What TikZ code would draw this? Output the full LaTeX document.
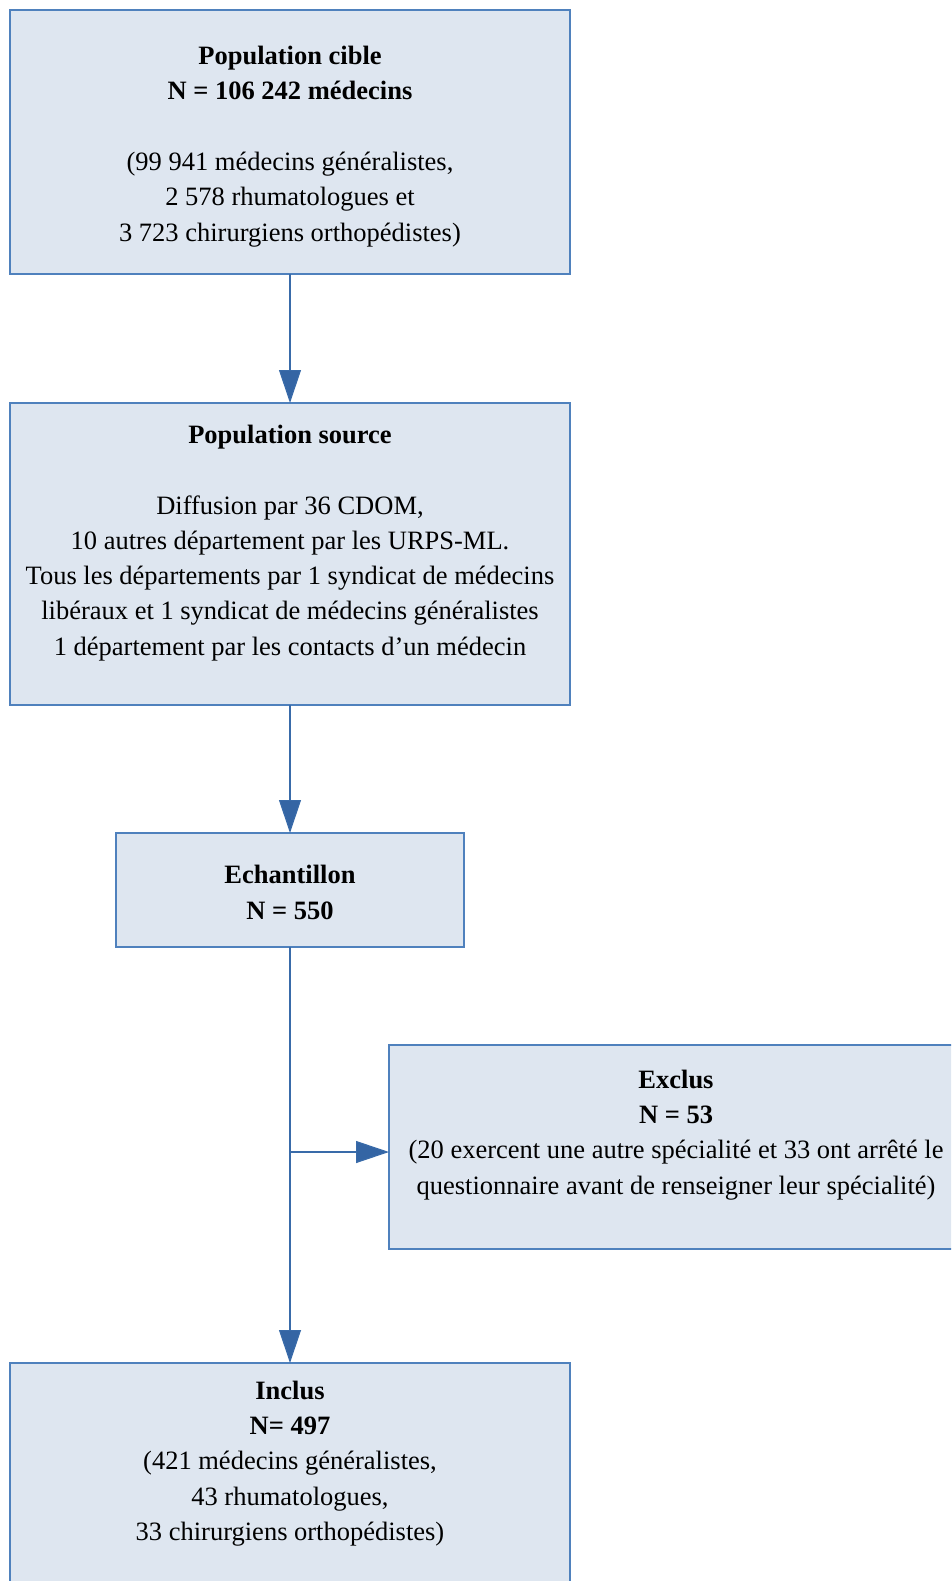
\documentclass[tikz,border=0pt]{standalone}
\usepackage{fontspec}
\setmainfont{Liberation Serif}
\usetikzlibrary{arrows.meta}
\definecolor{boxfill}{RGB}{222,230,240}
\definecolor{boxline}{RGB}{79,129,189}
\definecolor{arrowblue}{RGB}{52,101,164}
\tikzset{
  flowbox/.style={draw=boxline, fill=boxfill, line width=1.2pt, rectangle, inner sep=0pt, outer sep=0pt},
  flowtext/.style={align=center, inner sep=0pt, font=\fontsize{26.5}{35.3}\selectfont},
  flowarrow/.style={draw=arrowblue!80!boxline, line width=1.2pt, -{Triangle[width=22pt,length=33pt,fill=arrowblue]}},
  flowline/.style={draw=arrowblue!80!boxline, line width=1.2pt}
}
\begin{document}
\begin{tikzpicture}[x=1pt,y=-1pt]
\useasboundingbox (0,0) rectangle (951,1581);
\fill[white] (0,0) rectangle (951,1581);
\clip (0,0) rectangle (951,1581);
\node[flowbox, minimum width=560pt, minimum height=264pt] (b1) at (290,142) {};
\node[flowbox, minimum width=560pt, minimum height=302pt] (b2) at (290,554) {};
\node[flowbox, minimum width=348pt, minimum height=114pt] (b3) at (290,890) {};
\node[flowbox, minimum width=576pt, minimum height=204pt] (b4) at (677,1147) {};
\node[flowbox, minimum width=560pt, minimum height=257pt] (b5) at (290,1491.5) {};
\node[flowtext] (t1) at (290,146.5) {\textbf{Population cible}\\\textbf{N = 106 242 médecins}\\[35.3pt](99 941 médecins généralistes,\\2 578 rhumatologues et\\3 723 chirurgiens orthopédistes)};
\node[flowtext] (t2) at (290,543) {\textbf{Population source}\\[35.3pt]Diffusion par 36 CDOM,\\10 autres département par les URPS-ML.\\Tous les départements par 1 syndicat de médecins\\libéraux et 1 syndicat de médecins généralistes\\1 département par les contacts d’un médecin};
\node[flowtext] (t3) at (290,892.5) {\textbf{Echantillon}\\\textbf{N = 550}};
\node[flowtext] (t4) at (676,1135) {\textbf{Exclus}\\\textbf{N = 53}\\(20 exercent une autre spécialité et 33 ont arrêté le\\questionnaire avant de renseigner leur spécialité)};
\node[flowtext] (t5) at (290,1463.5) {\textbf{Inclus}\\\textbf{N= 497}\\(421 médecins généralistes,\\43 rhumatologues,\\33 chirurgiens orthopédistes)};
\coordinate (j) at (290,1152);
\draw[flowarrow] (b1.south) -- (b2.north);
\draw[flowarrow] (b2.south) -- (b3.north);
\draw[flowarrow] (b3.south) -- (b5.north);
\draw[flowarrow] (j) -- (b4.west |- j);
\end{tikzpicture}
\end{document}
